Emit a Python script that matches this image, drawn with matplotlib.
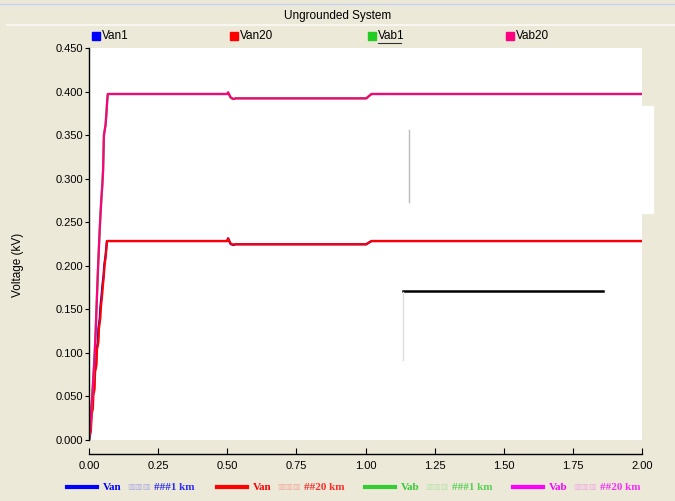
from matplotlib import pyplot as plt
from matplotlib.lines import Line2D
from matplotlib.patches import Rectangle
from matplotlib.ticker import FormatStrFormatter

# time (s) and voltage (kV) samples of each trace
t_van1 = [0, 0.003, 0.006, 0.008, 0.012, 0.014, 0.018, 0.020, 0.025, 0.027,
          0.032, 0.034, 0.039, 0.041, 0.046, 0.048, 0.053, 0.055, 0.060, 0.063,
          0.065, 0.500, 0.503, 0.512, 0.522, 0.530, 1.003, 1.013, 1.022, 2.0]
v_van1 = [0, 0.006, 0.012, 0.030, 0.036, 0.052, 0.058, 0.078, 0.086, 0.104,
          0.112, 0.128, 0.140, 0.152, 0.168, 0.176, 0.190, 0.200, 0.212, 0.222,
          0.2284, 0.2284, 0.2315, 0.2250, 0.2238, 0.2247, 0.2247, 0.2268, 0.2284, 0.2284]

t_van20 = [0, 0.004, 0.007, 0.010, 0.014, 0.016, 0.020, 0.022, 0.027, 0.029,
           0.034, 0.036, 0.041, 0.043, 0.048, 0.050, 0.054, 0.056, 0.061, 0.063,
           0.065, 0.500, 0.503, 0.512, 0.522, 0.530, 1.003, 1.013, 1.022, 2.0]
v_van20 = [0, 0.006, 0.012, 0.030, 0.036, 0.052, 0.058, 0.078, 0.086, 0.104,
           0.112, 0.128, 0.140, 0.152, 0.168, 0.176, 0.190, 0.200, 0.212, 0.222,
           0.2284, 0.2284, 0.2313, 0.2256, 0.2242, 0.2247, 0.2247, 0.2268, 0.2284, 0.2284]

t_vab = [0, 0.003, 0.006, 0.009, 0.012, 0.015, 0.018, 0.021, 0.024, 0.027,
         0.030, 0.033, 0.036, 0.039, 0.042, 0.045, 0.048, 0.051, 0.054, 0.057,
         0.060, 0.063, 0.066, 0.068, 0.500, 0.503, 0.512, 0.522, 0.530,
         1.003, 1.013, 1.022, 2.0]
v_vab1 = [0, 0.010, 0.022, 0.038, 0.052, 0.068, 0.084, 0.102, 0.124, 0.150,
          0.175, 0.200, 0.222, 0.243, 0.262, 0.278, 0.292, 0.310, 0.350, 0.356,
          0.362, 0.375, 0.390, 0.3972, 0.3972, 0.3988, 0.3928, 0.3912, 0.3922,
          0.3922, 0.3950, 0.3972, 0.3972]
v_vab20 = [0, 0.010, 0.022, 0.038, 0.052, 0.068, 0.084, 0.102, 0.124, 0.150,
           0.175, 0.200, 0.222, 0.243, 0.262, 0.278, 0.292, 0.310, 0.350, 0.356,
           0.362, 0.375, 0.390, 0.3972, 0.3972, 0.3991, 0.3935, 0.3915, 0.3922,
           0.3922, 0.3950, 0.3972, 0.3972]

names = ['Van1', 'Van20', 'Vab1', 'Vab20']
colors = ['#0000FF', '#FF0000', '#22CC22', '#FF0080']
bottom_colors = ['#0000FF', '#FF0000', '#33CC33', '#FF00FF']
bottom_names = ['Van', 'Van', 'Vab', 'Vab']
bottom_tails = ['###1 km', '##20 km', '###1 km', '##20 km']

xticks = [0, 0.25, 0.5, 0.75, 1.0, 1.25, 1.5, 1.75, 2.0]
yticks = [0, 0.05, 0.1, 0.15, 0.2, 0.25, 0.3, 0.35, 0.4, 0.45]

bg = '#ECE9D8'
W, H = 675.0, 501.0

plt.rcParams['font.family'] = ['Liberation Sans', 'DejaVu Sans']

fig = plt.figure(figsize=(6.75, 5.01), dpi=100, facecolor=bg)
ax = fig.add_axes([89 / W, 1 - 440 / H, 553 / W, 392 / H])
ax.set_facecolor('white')

ax.plot(t_van1, v_van1, color=colors[0], lw=1.6)
ax.plot(t_van20, v_van20, color=colors[1], lw=1.6)
ax.plot(t_vab, v_vab1, color=colors[2], lw=1.6)
ax.plot(t_vab, v_vab20, color=colors[3], lw=1.6)

ax.set_xlim(0, 2.0)
ax.set_ylim(0, 0.45)
ax.set_xticks(xticks)
ax.set_yticks(yticks)
ax.xaxis.set_major_formatter(FormatStrFormatter('%.2f'))
ax.yaxis.set_major_formatter(FormatStrFormatter('%.3f'))
ax.spines['top'].set_visible(False)
ax.spines['right'].set_visible(False)
ax.spines['bottom'].set_position(('outward', 10))
ax.spines['bottom'].set_linewidth(1.0)
ax.spines['left'].set_linewidth(1.0)
ax.tick_params(axis='x', direction='in', length=4, labelsize=8, pad=5)
ax.tick_params(axis='y', direction='out', length=3, labelsize=8, pad=1)

# axis title
fig.text(18 / W, 1 - 265 / H, 'Voltage (kV)', rotation=90, ha='center',
         va='center', fontsize=8.5)

# title strip
fig.text(338 / W, 1 - 16 / H, 'Ungrounded System', ha='center', va='center',
         fontsize=8.5)
fig.add_artist(Line2D([0, 1], [1 - 4 / H, 1 - 4 / H], color='#C8D0F0', lw=1,
                      transform=fig.transFigure))
fig.add_artist(Line2D([7 / W, 1], [1 - 25 / H, 1 - 25 / H], color='#FAFAF5',
                      lw=1.2, transform=fig.transFigure))

# top legend
top_x = [92, 230, 368, 506]
for x, name, c in zip(top_x, names, colors):
    fig.add_artist(Rectangle((x / W, 1 - 40 / H), 8 / W, 8 / H, color=c,
                             transform=fig.transFigure))
    fig.text((x + 10) / W, 1 - 36 / H, name, va='center', fontsize=8.5)
    if name == 'Vab1':
        fig.add_artist(Line2D([(x + 10) / W, (x + 33) / W],
                              [1 - 43 / H, 1 - 43 / H], color='#333333', lw=0.8,
                              transform=fig.transFigure))

# bottom legend
bot_x = [67, 217, 365, 513]
for x, name, tail, c in zip(bot_x, bottom_names, bottom_tails, bottom_colors):
    y = 1 - 487 / H
    fig.add_artist(Line2D([x / W, (x + 30) / W], [y, y], color=c, lw=3,
                          transform=fig.transFigure))
    fig.text((x + 36) / W, y, name, va='center', fontsize=8, color=c,
             family='Liberation Serif', weight='bold')
    fig.text((x + 60) / W, y, '\u25a5\u25a5\u25a5', va='center', fontsize=6,
             color=c, alpha=0.25, family='DejaVu Sans')
    fig.text((x + 87) / W, y, tail, va='center', fontsize=8, color=c,
             alpha=0.8, family='Liberation Serif', weight='bold')

# leftover window fragments over the plot
fig.add_artist(Rectangle((642 / W, 1 - 213 / H), 11 / W, 107 / H, color='white',
                         transform=fig.transFigure))
fig.add_artist(Line2D([409 / W, 409 / W], [1 - 130 / H, 1 - 202 / H],
                      color='#BBBBBB', lw=1, transform=fig.transFigure))
fig.add_artist(Line2D([403 / W, 603 / W], [1 - 291 / H, 1 - 291 / H],
                      color='black', lw=1.8, transform=fig.transFigure))
fig.add_artist(Line2D([403 / W, 403 / W], [1 - 292 / H, 1 - 360 / H],
                      color='#DDDDDD', lw=1, transform=fig.transFigure))

fig.savefig('out.png', dpi=100, facecolor=bg)
